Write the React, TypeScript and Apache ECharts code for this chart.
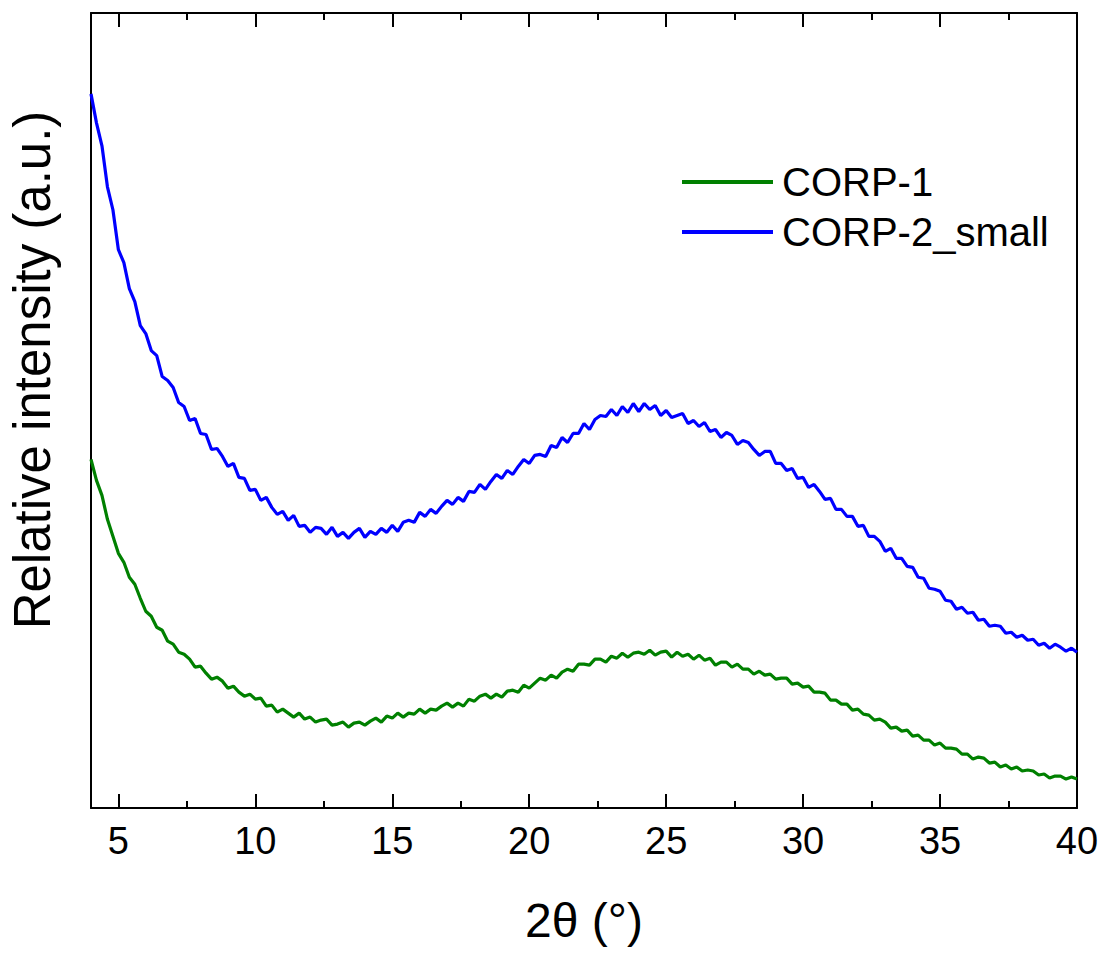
import React, { useEffect, useRef } from "react";
import * as echarts from "echarts";

// 2θ sampling grid (degrees), 0.2° step from 4 to 40
const twoTheta: number[] = Array.from({ length: 181 }, (_, i) => +(4 + i * 0.2).toFixed(1));

// Relative intensity (a.u.)
const corp1: number[] = [
  349, 328, 313, 289, 272, 255, 246, 231, 224, 210,
  197, 192, 181, 178, 167, 164, 156, 154, 149, 141,
  142, 135, 129, 131, 127, 120, 122, 116, 112, 114,
  109, 110, 102, 103, 96, 99, 95, 91, 95, 89,
  91, 86, 88, 89, 83, 84, 86, 81, 85, 86,
  83, 87, 90, 86, 92, 90, 95, 91, 95, 94,
  99, 95, 99, 98, 102, 105, 101, 105, 102, 109,
  107, 112, 114, 110, 114, 111, 117, 118, 116, 123,
  120, 125, 130, 128, 133, 130, 136, 139, 137, 144,
  144, 143, 149, 149, 146, 152, 150, 155, 151, 155,
  156, 154, 158, 153, 156, 157, 151, 156, 152, 154,
  149, 153, 148, 150, 143, 146, 146, 141, 144, 139,
  139, 134, 137, 133, 134, 129, 130, 130, 124, 125,
  121, 122, 116, 116, 115, 108, 108, 104, 104, 98,
  99, 94, 93, 88, 89, 86, 80, 81, 77, 78,
  72, 73, 68, 68, 63, 65, 60, 60, 59, 54,
  54, 49, 51, 50, 45, 46, 41, 43, 39, 41,
  37, 38, 37, 33, 34, 30, 32, 32, 29, 31,
  29,
];

const corp2Small: number[] = [
  715, 686, 663, 622, 599, 559, 546, 520, 507, 483,
  475, 458, 453, 432, 428, 421, 406, 402, 388, 390,
  375, 374, 359, 360, 352, 342, 345, 331, 330, 318,
  319, 308, 311, 301, 294, 297, 288, 293, 282, 283,
  276, 281, 280, 274, 281, 272, 276, 270, 276, 280,
  271, 277, 274, 280, 276, 283, 277, 286, 288, 286,
  296, 292, 299, 295, 302, 308, 304, 311, 307, 317,
  316, 324, 319, 327, 334, 330, 338, 334, 342, 349,
  345, 353, 354, 352, 363, 361, 371, 366, 375, 375,
  385, 379, 389, 393, 392, 399, 393, 402, 396, 405,
  397, 405, 399, 403, 393, 398, 391, 393, 395, 385,
  388, 382, 386, 377, 379, 371, 376, 373, 364, 368,
  366, 359, 353, 357, 357, 345, 345, 338, 340, 330,
  331, 321, 324, 317, 309, 310, 299, 299, 292, 292,
  282, 283, 272, 272, 267, 257, 260, 250, 250, 242,
  241, 231, 230, 220, 219, 217, 208, 207, 199, 201,
  195, 196, 188, 189, 182, 183, 182, 175, 176, 171,
  173, 168, 169, 163, 165, 160, 164, 161, 157, 160,
  156,
];

const seriesNames = ["CORP-1", "CORP-2_small"];
const majorTicks = [5, 10, 15, 20, 25, 30, 35, 40];
const minorTicks = [7.5, 12.5, 17.5, 22.5, 27.5, 32.5, 37.5];

const FONT = "'Liberation Sans', Arial, Helvetica, sans-serif";

export default function App() {
  const ref = useRef<HTMLDivElement>(null);

  useEffect(() => {
    document.body.style.margin = "0";
    if (!ref.current) return;
    const chart = echarts.init(ref.current, undefined, { renderer: "svg" });

    const axisBase = {
      type: "value",
      min: 4,
      max: 40,
      splitLine: { show: false },
    };

    const option: any = {
      animation: false,
      backgroundColor: "#fff",
      grid: { left: 91, right: 26, top: 13, bottom: 145 },
      legend: {
        left: 677,
        top: 157,
        orient: "vertical",
        icon: "rect",
        itemWidth: 91,
        itemHeight: 4,
        itemGap: 10,
        data: seriesNames,
        textStyle: { fontFamily: FONT, fontSize: 40, color: "#000", lineHeight: 40, padding: [0, 0, 0, 4] },
      },
      graphic: [
        {
          type: "text",
          x: 32,
          y: 370,
          rotation: Math.PI / 2,
          style: {
            text: "Relative intensity (a.u.)",
            fontFamily: FONT,
            fontSize: 51,
            fill: "#000",
            textAlign: "center",
            textVerticalAlign: "middle",
          },
        },
      ],
      xAxis: [
        {
          ...axisBase,
          position: "bottom",
          name: "2θ (°)",
          nameLocation: "middle",
          nameGap: 88,
          nameTextStyle: { fontFamily: FONT, fontSize: 48, color: "#000" },
          axisLine: { show: true, lineStyle: { color: "#000", width: 2 } },
          axisTick: { show: true, inside: true, length: 14, lineStyle: { color: "#000", width: 2 }, customValues: majorTicks },
          axisLabel: { show: true, customValues: majorTicks, fontFamily: FONT, fontSize: 38, color: "#000", margin: 14 },
        },
        {
          ...axisBase,
          position: "bottom",
          axisLine: { show: false },
          axisTick: { show: true, inside: true, length: 7, lineStyle: { color: "#000", width: 2 }, customValues: minorTicks },
          axisLabel: { show: false },
        },
        {
          ...axisBase,
          position: "top",
          axisLine: { show: true, lineStyle: { color: "#000", width: 2 } },
          axisTick: { show: true, inside: true, length: 14, lineStyle: { color: "#000", width: 2 }, customValues: majorTicks },
          axisLabel: { show: false },
        },
        {
          ...axisBase,
          position: "top",
          axisLine: { show: false },
          axisTick: { show: true, inside: true, length: 7, lineStyle: { color: "#000", width: 2 }, customValues: minorTicks },
          axisLabel: { show: false },
        },
      ],
      yAxis: [
        {
          type: "value",
          min: 0,
          max: 796,
          position: "left",
          axisLine: { show: true, lineStyle: { color: "#000", width: 2 } },
          axisTick: { show: false },
          axisLabel: { show: false },
          splitLine: { show: false },
        },
        {
          type: "value",
          min: 0,
          max: 796,
          position: "right",
          axisLine: { show: true, lineStyle: { color: "#000", width: 2 } },
          axisTick: { show: false },
          axisLabel: { show: false },
          splitLine: { show: false },
        },
      ],
      series: [
        {
          name: seriesNames[0],
          type: "line",
          xAxisIndex: 0,
          yAxisIndex: 0,
          showSymbol: false,
          symbol: "none",
          color: "#008000",
          lineStyle: { color: "#008000", width: 3.2 },
          data: twoTheta.map((x, i) => [x, corp1[i]]),
        },
        {
          name: seriesNames[1],
          type: "line",
          xAxisIndex: 0,
          yAxisIndex: 0,
          showSymbol: false,
          symbol: "none",
          color: "#0000ff",
          lineStyle: { color: "#0000ff", width: 3.2 },
          data: twoTheta.map((x, i) => [x, corp2Small[i]]),
        },
      ],
    };

    chart.setOption(option);
    return () => chart.dispose();
  }, []);

  return <div ref={ref} style={{ width: 1103, height: 953 }} />;
}
